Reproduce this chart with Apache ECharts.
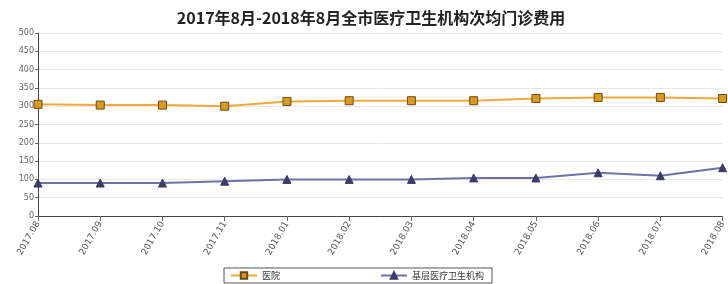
<!DOCTYPE html>
<html>
<head>
<meta charset="utf-8">
<script src="https://cdn.jsdelivr.net/npm/echarts@6/dist/echarts.min.js"></script>
<style>
  html, body { margin: 0; padding: 0; background: #fff; }
  #chart { width: 728px; height: 284px; }
</style>
</head>
<body>
<div id="chart"></div>
<script>
// 月份
const months = ['2017.08', '2017.09', '2017.10', '2017.11', '2018.01', '2018.02',
  '2018.03', '2018.04', '2018.05', '2018.06', '2018.07', '2018.08'];
// 医院
const hospital = [305, 303, 303, 300, 313, 315, 315, 315, 321, 324, 324, 321];
// 基层医疗卫生机构
const primary = [90, 90, 90, 95, 100, 100, 100, 104, 104, 118, 110, 132];

const chart = echarts.init(document.getElementById('chart'));
chart.setOption({
  animation: false,
  title: {
    text: '2017年8月-2018年8月全市医疗卫生机构次均门诊费用',
    left: 366,
    textAlign: 'center',
    top: 5,
    textStyle: {fontFamily: 'Noto Sans CJK SC', fontSize: 16, fontWeight: 'bold', color: '#222'}
  },
  legend: {
    left: 224,
    bottom: 1,
    width: 286,
    itemGap: 100,
    itemWidth: 26,
    itemHeight: 8,
    padding: [3, 8, 3, 6],
    borderColor: '#555',
    borderWidth: 1,
    borderRadius: 0,
    textStyle: {fontFamily: 'Noto Sans CJK SC', fontSize: 9, color: '#333'},
    data: ['医院', '基层医疗卫生机构']
  },
  grid: {left: 38, right: 5, top: 33, bottom: 68},
  xAxis: {
    type: 'category',
    boundaryGap: false,
    data: months,
    axisLine: {lineStyle: {color: '#444'}},
    axisTick: {show: true, alignWithLabel: true, lineStyle: {color: '#666'}},
    axisLabel: {rotate: 60, fontSize: 9, color: '#555', fontFamily: 'DejaVu Sans', margin: 6, interval: 0}
  },
  yAxis: {
    type: 'value',
    min: 0,
    max: 500,
    interval: 50,
    axisLine: {show: true, lineStyle: {color: '#444'}},
    axisTick: {show: true, length: 3, lineStyle: {color: '#666'}},
    axisLabel: {fontSize: 8, color: '#666', fontFamily: 'DejaVu Sans', margin: 4},
    splitLine: {lineStyle: {color: '#e8e8e8'}}
  },
  series: [
    {
      name: '医院',
      type: 'line',
      data: hospital,
      symbol: 'rect',
      symbolSize: 8,
      lineStyle: {color: '#f2a93b', width: 2},
      itemStyle: {color: '#d99a1f', borderColor: '#6b4a12', borderWidth: 1}
    },
    {
      name: '基层医疗卫生机构',
      type: 'line',
      data: primary,
      symbol: 'triangle',
      symbolSize: 8,
      lineStyle: {color: '#7070aa', width: 2},
      itemStyle: {color: '#3c3c66', borderColor: '#3c3c66', borderWidth: 1}
    }
  ]
});
</script>
</body>
</html>
